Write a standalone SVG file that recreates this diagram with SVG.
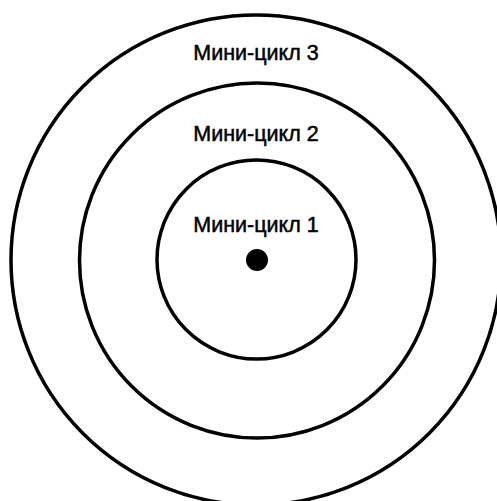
<svg xmlns="http://www.w3.org/2000/svg" width="497" height="501" viewBox="0 0 497 501">
<style>
.ring{fill:none;stroke:#000;stroke-width:3.5}
.lbl{font-family:"Liberation Sans",Arial,sans-serif;font-size:21.5px;fill:#000;stroke:#000;stroke-width:0.5;text-anchor:middle}
</style>
<rect width="497" height="501" fill="#fff"/>
<g id="cycle3">
<circle class="ring" cx="256" cy="260" r="245"/>
<text class="lbl" x="256" y="60">Мини-цикл 3</text>
</g>
<g id="cycle2">
<circle class="ring" cx="257" cy="260.5" r="177.5"/>
<text class="lbl" x="256" y="141">Мини-цикл 2</text>
</g>
<g id="cycle1">
<circle class="ring" cx="256.5" cy="259.5" r="99.5"/>
<text class="lbl" x="256" y="232">Мини-цикл 1</text>
</g>
<g id="center">
<circle cx="257" cy="260" r="11" fill="#000"/>
</g>
<g id="connectors"></g>
</svg>
